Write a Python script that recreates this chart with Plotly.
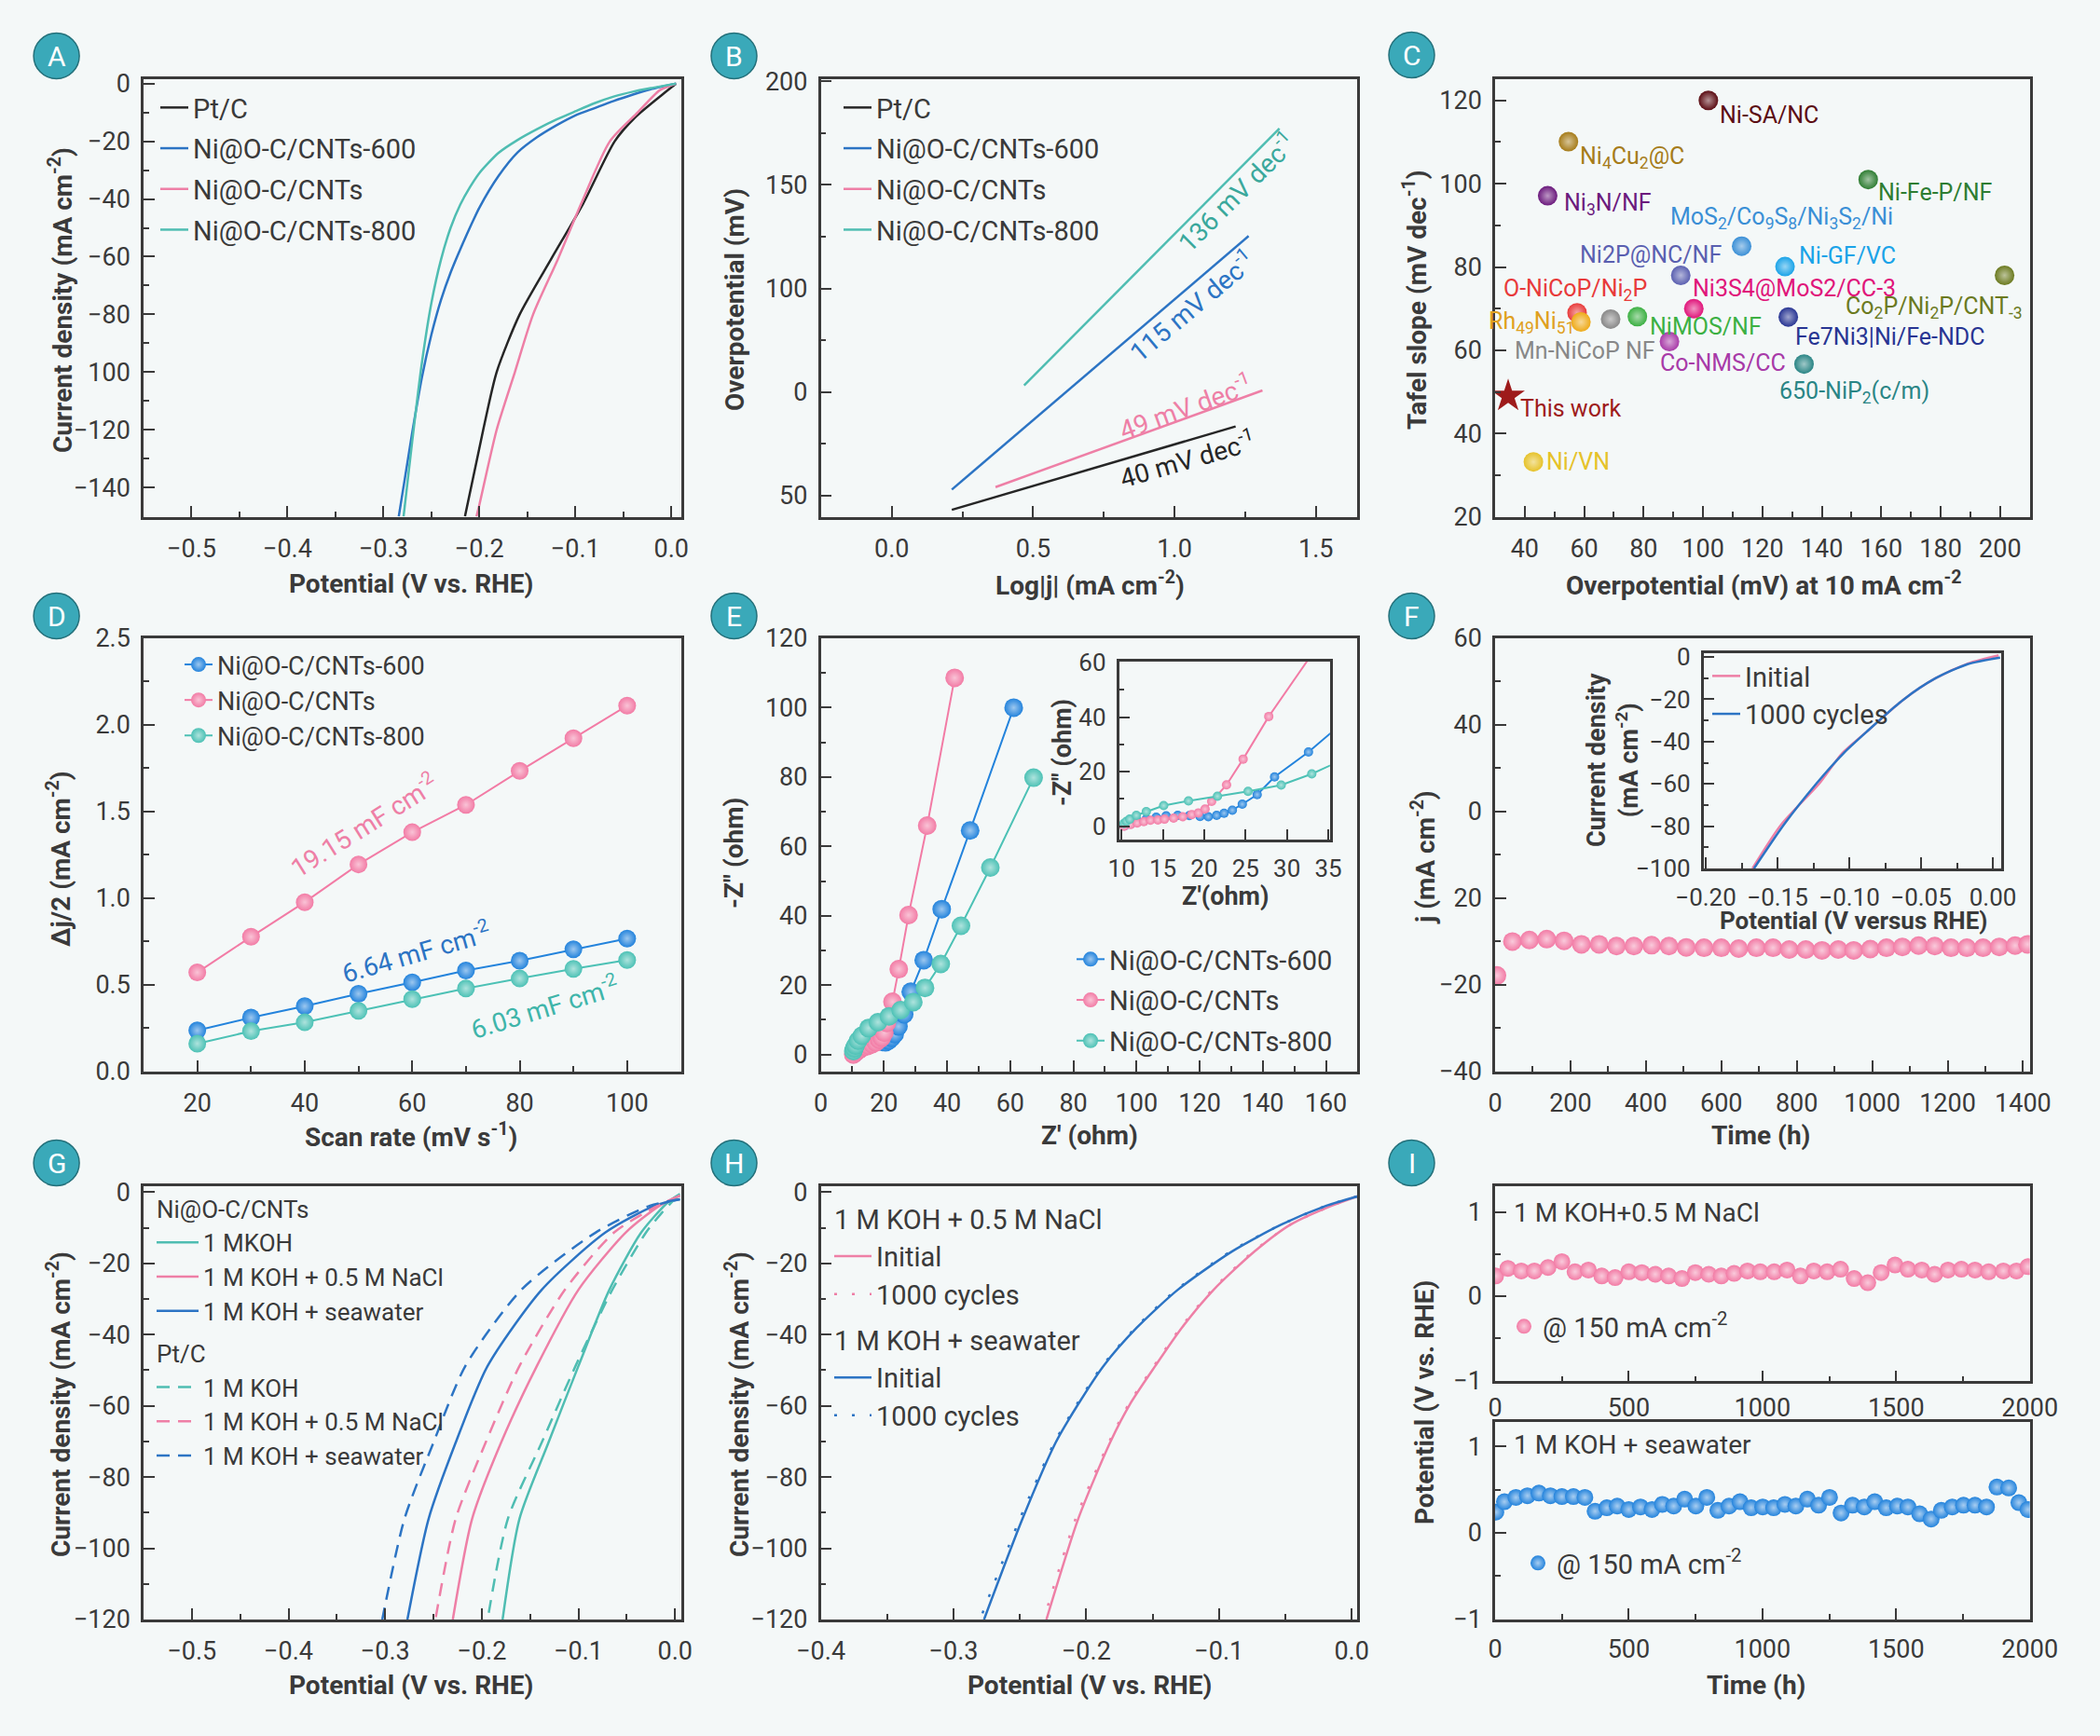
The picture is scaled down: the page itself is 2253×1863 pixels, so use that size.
import plotly.graph_objects as go

W, H = 2253, 1863
BG = "#f4f8f8"
INK = "#3a3a3a"
FONT = "Roboto"
MINUS = "\u2212"

C_BLK = "#262626"
C_BLU = "#2c74c4"
C_PNK = "#ee7fa6"
C_TEA = "#4fbdb2"
MK_BLU = "#2383dc"
MK_PNK = "#f27ba5"
MK_TEA = "#4cc1b5"

# ---------------- Panel A : LSV ----------------
A_pt_x = [0.005, -0.009, -0.038, -0.059, -0.092, -0.125, -0.158, -0.182, -0.196, -0.215]
A_pt_y = [0, -3.7, -11.8, -20, -41.7, -60.7, -80, -100, -120, -150]
A_600_x = [0.005, -0.02, -0.04, -0.06, -0.08, -0.10, -0.12, -0.14, -0.16, -0.18, -0.20, -0.21, -0.22,
           -0.23, -0.24, -0.25, -0.26, -0.27, -0.284]
A_600_y = [0, -1.8, -3.8, -6.0, -8.5, -11.0, -14.5, -18.6, -23.8, -32, -43, -50, -57.5, -65.5, -75, -87,
           -102, -121, -150]
A_cnt_x = [0.005, -0.012, -0.035, -0.064, -0.094, -0.118, -0.144, -0.163, -0.182, -0.2, -0.203]
A_cnt_y = [0, -2.3, -10, -20, -41.7, -60.7, -80, -100, -120, -146, -150]
A_800_x = [0.005, -0.02, -0.04, -0.06, -0.08, -0.10, -0.12, -0.14, -0.16, -0.18, -0.20, -0.21, -0.22,
           -0.23, -0.24, -0.25, -0.26, -0.27, -0.279]
A_800_y = [0, -1.5, -2.8, -4.5, -6.8, -9.6, -12.5, -15.8, -19.5, -24, -31, -36, -42, -50, -61, -76, -97,
           -124, -150]
A_xticks = [-0.5, -0.4, -0.3, -0.2, -0.1, 0.0]
A_xtext = ["-0.5", "-0.4", "-0.3", "-0.2", "-0.1", "0.0"]
A_yticks = [0, -20, -40, -60, -80, -100, -120, -140]
A_ytext = ["0", "-20", "-40", "-60", "-80", "100", "-120", "-140"]

# ---------------- Panel B : Tafel ----------------
B_pt_x, B_pt_y = [0.2125, 1.216], [-7.0, 33.3]
B_600_x, B_600_y = [0.2125, 1.262], [2.8, 125.3]
B_cnt_x, B_cnt_y = [0.367, 1.311], [4.0, 50.7]
B_800_x, B_800_y = [0.468, 1.371], [53.1, 177.3]
B_xticks = [0.0, 0.5, 1.0, 1.5]
B_xtext = ["0.0", "0.5", "1.0", "1.5"]
B_yticks = [200, 150, 100, 50, 0]
B_ytext = ["200", "150", "100", "0", "50"]
B_slopes = ["136 mV dec<sup>-1</sup>", "115 mV dec<sup>-1</sup>", "49 mV dec<sup>-1</sup>", "40 mV dec<sup>-1</sup>"]

# ---------------- Panel C : comparison ----------------
C_names = ["Ni-SA/NC", "Ni<sub>4</sub>Cu<sub>2</sub>@C", "Ni<sub>3</sub>N/NF", "Ni-Fe-P/NF",
           "MoS<sub>2</sub>/Co<sub>9</sub>S<sub>8</sub>/Ni<sub>3</sub>S<sub>2</sub>/Ni", "Ni-GF/VC",
           "Ni2P@NC/NF", "Co<sub>2</sub>P/Ni<sub>2</sub>P/CNT<sub>-3</sub>", "Ni3S4@MoS2/CC-3",
           "O-NiCoP/Ni<sub>2</sub>P", "Rh<sub>49</sub>Ni<sub>51</sub>", "Mn-NiCoP NF", "NiMOS/NF",
           "Co-NMS/CC", "Fe7Ni3|Ni/Fe-NDC", "650-NiP<sub>2</sub>(c/m)", "Ni/VN"]
C_eta = [101.8, 54.7, 47.7, 155.6, 113.0, 127.6, 92.5, 201.5, 96.9, 57.6, 58.9, 68.9, 77.9, 88.7, 128.7, 134.0, 42.9]
C_tafel = [120.0, 110.1, 97.1, 101.0, 85.0, 80.1, 78.0, 78.0, 70.0, 69.0, 66.8, 67.5, 68.1, 62.1, 68.0, 56.7, 33.2]
C_colors = ["#5c0d14", "#a67c1a", "#6b1a7d", "#2e7d32", "#3a8fd6", "#1aa3e8", "#5a5fb0", "#6b7a1f",
            "#e0157a", "#e83a3a", "#eeaa18", "#888888", "#3cb043", "#a83aa8", "#283593", "#2a8585", "#e6c229"]
C_txtcol = ["#5c0d14", "#a67c1a", "#6b1a7d", "#2e7d32", "#3a8fd6", "#1aa3e8", "#5a5fb0", "#6b7a1f",
            "#e0157a", "#e83a3a", "#e0a020", "#888888", "#3cb043", "#a83aa8", "#283593", "#2a8585", "#e6c229"]
# label placement: (xanchor, xshift px, yshift px)
C_lab = [("left", 10, -16), ("left", 10, -17), ("left", 16, -9), ("left", 9, -14),
         ("center", 43, 30), ("left", 13, 12), ("right", 46, 22), ("right", 21, -35),
         ("left", -3, 22), ("center", -2, 25), ("right", -5, 0), ("center", -27, -34),
         ("left", 11, -11), ("left", -12, -23), ("left", 5, -21), ("center", 54, -30), ("left", 12, 0)]
C_this_eta, C_this_tafel = [34.4], [49.0]
C_xticks = [40, 60, 80, 100, 120, 140, 160, 180, 200]
C_yticks = [20, 40, 60, 80, 100, 120]

# ---------------- Panel D : Cdl ----------------
D_rate = [20, 30, 40, 50, 60, 70, 80, 90, 100]
D_600 = [0.235, 0.309, 0.375, 0.447, 0.513, 0.581, 0.638, 0.704, 0.766]
D_cnt = [0.570, 0.776, 0.976, 1.194, 1.380, 1.538, 1.734, 1.923, 2.111]
D_800 = [0.159, 0.231, 0.282, 0.348, 0.416, 0.478, 0.535, 0.591, 0.642]
D_xticks = [20, 40, 60, 80, 100]
D_yticks = [0.0, 0.5, 1.0, 1.5, 2.0, 2.5]
D_ytext = ["0.0", "0.5", "1.0", "1.5", "2.0", "2.5"]

# ---------------- Panel E : EIS ----------------
E_600_x = [10.4, 11.2, 12.0, 13.0, 14.2, 15.4, 16.8, 18.2, 19.5, 20.5, 21.5, 22.4, 23.4, 24.6, 26.4, 28.5, 32.6, 38.3, 47.3, 61.1]
E_600_y = [0.2, 1.0, 1.8, 2.6, 3.3, 3.8, 4.0, 3.9, 3.6, 3.5, 4.0, 4.8, 5.9, 8.1, 11.6, 18.1, 27.2, 41.9, 64.6, 100.0]
E_cnt_x = [10.3, 11.1, 11.9, 12.7, 13.5, 14.4, 15.2, 16.3, 17.4, 18.5, 19.3, 20.1, 20.9, 22.7, 24.7, 27.8, 33.7, 42.4]
E_cnt_y = [0.0, 0.65, 1.2, 1.7, 2.2, 2.3, 2.6, 3.0, 3.5, 4.3, 4.9, 6.3, 9.1, 15.2, 24.6, 40.2, 66.0, 108.6]
E_800_x = [10.3, 10.6, 11.0, 11.8, 13.0, 15.1, 18.1, 21.6, 25.3, 29.3, 33.0, 38.0, 44.4, 53.7, 67.4]
E_800_y = [1.0, 1.8, 2.6, 4.0, 5.4, 7.6, 9.3, 11.0, 12.8, 15.1, 19.2, 26.1, 37.1, 53.9, 79.8]
E_xticks = [0, 20, 40, 60, 80, 100, 120, 140, 160]
E_yticks = [0, 20, 40, 60, 80, 100, 120]
E_in_xticks = [10, 15, 20, 25, 30, 35]
E_in_yticks = [0, 20, 40, 60]

# ---------------- Panel F : stability ----------------
F_t = [5, 46, 91, 137, 183, 229, 276, 322, 368, 415, 461, 507, 554, 600, 646, 693, 737, 780, 824, 867,
       910, 951, 995, 1038, 1080, 1123, 1166, 1209, 1251, 1294, 1337, 1379, 1412]
F_j = [-17.9, -10.05, -9.7, -9.5, -9.9, -10.7, -10.7, -11.1, -11.1, -10.9, -11.1, -11.4, -11.5, -11.5, -11.7,
       -11.5, -11.5, -11.9, -11.9, -12.1, -11.9, -12.1, -11.8, -11.5, -11.3, -11.0, -11.1, -11.5, -11.5,
       -11.5, -11.3, -11.0, -10.7]
F_xticks = [0, 200, 400, 600, 800, 1000, 1200, 1400]
F_yticks = [60, 40, 20, 0, -20, -40]
F_ytext = ["60", "40", "0", "20", "-20", "-40"]
F_ini_x = [0.004, -0.017, -0.040, -0.0624, -0.088, -0.105, -0.121, -0.1475, -0.1675]
F_ini_y = [0.8, -3.0, -10.1, -20.2, -35.4, -45.5, -59.9, -79.3, -100]
F_cyc_x = [0.005, -0.0176, -0.040, -0.0624, -0.088, -0.104, -0.123, -0.1456, -0.1664]
F_cyc_y = [-0.3, -3.4, -10.1, -20.2, -35.4, -45.5, -59.9, -79.3, -100]
F_in_xticks = [-0.20, -0.15, -0.10, -0.05, 0.00]
F_in_xtext = ["-0.20", "-0.15", "-0.10", "-0.05", "0.00"]
F_in_yticks = [0, -20, -40, -60, -80, -100]
F_in_ytext = ["0", "-20", "-40", "-60", "-80", "-100"]

# ---------------- Panel G : electrolytes ----------------
G_ni_koh_x = [0.005, -0.007, -0.035, -0.068, -0.100, -0.131, -0.161, -0.1785]
G_ni_koh_y = [-0.5, -2.7, -11.3, -27.4, -48.8, -70.3, -91.7, -120]
G_ni_nacl_x = [0.005, -0.016, -0.051, -0.100, -0.143, -0.180, -0.210, -0.230]
G_ni_nacl_y = [-1.0, -3.8, -11.3, -27.4, -48.8, -70.3, -91.7, -120]
G_ni_sea_x = [0.005, -0.021, -0.072, -0.138, -0.194, -0.227, -0.255, -0.277]
G_ni_sea_y = [-2.0, -3.8, -11.3, -27.4, -48.8, -70.3, -91.7, -120]
G_pt_koh_x = [0.003, -0.014, -0.030, -0.065, -0.103, -0.138, -0.173, -0.194]
G_pt_koh_y = [-1.0, -5.9, -11.3, -27.4, -48.8, -70.3, -91.7, -120]
G_pt_nacl_x = [0.005, -0.018, -0.063, -0.114, -0.161, -0.196, -0.227, -0.248]
G_pt_nacl_y = [-1.0, -3.8, -11.3, -27.4, -48.8, -70.3, -91.7, -120]
G_pt_sea_x = [0.005, -0.026, -0.082, -0.159, -0.217, -0.250, -0.280, -0.303]
G_pt_sea_y = [-2.0, -3.8, -11.3, -27.4, -48.8, -70.3, -91.7, -120]
G_yticks = [0, -20, -40, -60, -80, -100, -120]
G_ytext = ["0", "-20", "-40", "-60", "-80", "-100", "-120"]

# ---------------- Panel H : cycling ----------------
H_y = [-1.2, -3.8, -9.1, -16.6, -27.4, -38.1, -48.8, -59.5, -70.3, -91.7, -120]
H_nacl_ini = [0.004, -0.015, -0.046, -0.073, -0.104, -0.128, -0.148, -0.167, -0.182, -0.206, -0.230]
H_nacl_cyc = [0.004, -0.015, -0.046, -0.074, -0.105, -0.129, -0.149, -0.168, -0.183, -0.208, -0.232]
H_sea_ini = [0.004, -0.019, -0.053, -0.090, -0.131, -0.162, -0.187, -0.206, -0.223, -0.248, -0.277]
H_sea_cyc = [0.004, -0.019, -0.053, -0.091, -0.132, -0.163, -0.188, -0.207, -0.224, -0.250, -0.280]
H_xticks = [-0.4, -0.3, -0.2, -0.1, 0.0]
H_xtext = ["-0.4", "-0.3", "-0.2", "-0.1", "0.0"]

# ---------------- Panel I : chronopotentiometry ----------------
I_nacl_t = [2, 48, 98, 147, 198, 250, 299, 349, 399, 449, 500, 549, 599, 649, 699, 749, 799, 846, 894, 944,
            992, 1044, 1092, 1142, 1192, 1242, 1292, 1343, 1394, 1444, 1496, 1544, 1596, 1644, 1694, 1744,
            1795, 1846, 1901, 1950, 1993]
I_nacl_v = [0.24, 0.33, 0.30, 0.30, 0.34, 0.41, 0.29, 0.31, 0.24, 0.22, 0.29, 0.28, 0.26, 0.24, 0.21, 0.28,
            0.26, 0.24, 0.27, 0.30, 0.29, 0.29, 0.31, 0.24, 0.30, 0.29, 0.32, 0.21, 0.16, 0.28, 0.37, 0.32,
            0.31, 0.26, 0.31, 0.32, 0.31, 0.29, 0.30, 0.30, 0.35]
I_sea_t = [3, 35, 78, 121, 164, 207, 250, 293, 336, 374, 418, 457, 500, 544, 587, 626, 668, 709, 751, 792,
           833, 875, 916, 958, 1001, 1042, 1084, 1125, 1168, 1210, 1251, 1294, 1337, 1381, 1420, 1463, 1505,
           1544, 1588, 1631, 1669, 1710, 1752, 1795, 1838, 1877, 1921, 1959, 1993]
I_sea_v = [0.24, 0.36, 0.41, 0.43, 0.46, 0.43, 0.42, 0.42, 0.41, 0.25, 0.29, 0.31, 0.27, 0.30, 0.27, 0.33,
           0.31, 0.39, 0.31, 0.41, 0.26, 0.31, 0.36, 0.29, 0.30, 0.29, 0.33, 0.31, 0.39, 0.32, 0.41, 0.23,
           0.32, 0.30, 0.36, 0.29, 0.31, 0.30, 0.22, 0.16, 0.26, 0.30, 0.32, 0.32, 0.30, 0.53, 0.52, 0.35, 0.27]
I_xticks = [0, 500, 1000, 1500, 2000]
I_yticks = [1, 0, -1]
I_ytext = ["1", "0", "-1"]


# ======================================================================
def PX(x):
    return x / W


def PY(y):
    return 1 - y / H


def tint(hexcol, f=0.6):
    h = hexcol.lstrip("#")
    r, g, b = int(h[0:2], 16), int(h[2:4], 16), int(h[4:6], 16)
    r, g, b = [int(c + (255 - c) * f) for c in (r, g, b)]
    return "#%02x%02x%02x" % (r, g, b)


def axis(rng, dom, anchor, tickvals, ticktext=None, minor=None, fs=27, standoff=6):
    labels = ticktext if ticktext else [str(v) for v in tickvals]
    labels = [t.replace("-", MINUS) for t in labels]
    d = dict(range=rng, domain=dom, anchor=anchor, showline=True, mirror=True,
             linecolor=INK, linewidth=2.5, ticks="inside", ticklen=12, tickwidth=2,
             tickcolor=INK, showgrid=False, zeroline=False, tickmode="array", automargin=False,
             tickvals=tickvals, ticktext=labels,
             tickfont=dict(family=FONT, size=fs, color=INK), ticklabelstandoff=standoff)
    if minor is not None:
        d["minor"] = dict(ticks="inside", ticklen=6, tickwidth=2, tickcolor=INK,
                          tickmode="linear", tick0=0, dtick=minor, showgrid=False)
    return d


# domains (pixels -> paper)
colA = [PX(154), PX(730.5)]
colB = [PX(880.6), PX(1456.4)]
colC = [PX(1604), PX(2177.7)]
row1 = [PY(554.7), PY(85.4)]
row2 = [PY(1149.5), PY(685)]
row3 = [PY(1738), PY(1272.5)]

fig = go.Figure()


def line(x, y, color, name, xa, ya, legend=None, dash="solid", width=2.5, show=True, group=None, gtitle=None,
         gsize=26):
    tr = go.Scatter(x=x, y=y, mode="lines", name=name, line=dict(color=color, width=width, dash=dash,
                    shape="spline", smoothing=0.7), xaxis=xa, yaxis=ya, showlegend=show,
                    legend=legend if legend else "legend")
    if group:
        tr.legendgroup = group
    if gtitle:
        tr.legendgrouptitle = dict(text=gtitle, font=dict(family=FONT, size=gsize, color=INK))
    fig.add_trace(tr)


# ---- A
line(A_pt_x, A_pt_y, C_BLK, "Pt/C", "x", "y", "legend", group="a1")
line(A_600_x, A_600_y, C_BLU, "Ni@O-C/CNTs-600", "x", "y", "legend", group="a2")
line(A_cnt_x, A_cnt_y, C_PNK, "Ni@O-C/CNTs", "x", "y", "legend", group="a3")
line(A_800_x, A_800_y, C_TEA, "Ni@O-C/CNTs-800", "x", "y", "legend", group="a4")

# ---- B
for xs, ys, c, n, g in [(B_pt_x, B_pt_y, C_BLK, "Pt/C", "b1"), (B_600_x, B_600_y, C_BLU, "Ni@O-C/CNTs-600", "b2"),
                        (B_cnt_x, B_cnt_y, C_PNK, "Ni@O-C/CNTs", "b3"), (B_800_x, B_800_y, C_TEA, "Ni@O-C/CNTs-800", "b4")]:
    fig.add_trace(go.Scatter(x=xs, y=ys, mode="lines", name=n, line=dict(color=c, width=2.5),
                             xaxis="x2", yaxis="y2", legend="legend2", legendgroup=g))

# ---- C
fig.add_trace(go.Scatter(x=C_eta, y=C_tafel, mode="markers", showlegend=False, xaxis="x3", yaxis="y3",
                         marker=dict(size=21, color=C_colors, line=dict(width=0),
                                     gradient=dict(type="radial", color=[tint(c, 0.55) for c in C_colors]))))
fig.add_trace(go.Scatter(x=C_this_eta, y=C_this_tafel, mode="markers", showlegend=False, xaxis="x3", yaxis="y3",
                         marker=dict(size=27, symbol="star", color="#9e1b1b", line=dict(width=0))))

# ---- D
for ys, c, n, g in [(D_600, MK_BLU, "Ni@O-C/CNTs-600", "d1"), (D_cnt, MK_PNK, "Ni@O-C/CNTs", "d2"),
                    (D_800, MK_TEA, "Ni@O-C/CNTs-800", "d3")]:
    fig.add_trace(go.Scatter(x=D_rate, y=ys, mode="lines+markers", name=n, xaxis="x4", yaxis="y4",
                             legend="legend3", legendgroup=g, line=dict(color=c, width=2),
                             marker=dict(size=19, color=c, gradient=dict(type="radial", color=tint(c, 0.55)))))

# ---- E main + inset
for xs, ys, c, n, g in [(E_600_x, E_600_y, MK_BLU, "Ni@O-C/CNTs-600", "e1"),
                        (E_cnt_x, E_cnt_y, MK_PNK, "Ni@O-C/CNTs", "e2"),
                        (E_800_x, E_800_y, MK_TEA, "Ni@O-C/CNTs-800", "e3")]:
    fig.add_trace(go.Scatter(x=xs, y=ys, mode="lines+markers", name=n, xaxis="x5", yaxis="y5",
                             legend="legend4", legendgroup=g, line=dict(color=c, width=2),
                             marker=dict(size=20, color=c, gradient=dict(type="radial", color=tint(c, 0.55)))))
for xs, ys, c in [(E_600_x, E_600_y, MK_BLU), (E_cnt_x, E_cnt_y, MK_PNK), (E_800_x, E_800_y, MK_TEA)]:
    fig.add_trace(go.Scatter(x=xs, y=ys, mode="lines+markers", showlegend=False, xaxis="x6", yaxis="y6",
                             line=dict(color=c, width=2),
                             marker=dict(size=10, color=c, gradient=dict(type="radial", color=tint(c, 0.55)))))

# ---- F main + inset
fig.add_trace(go.Scatter(x=F_t, y=F_j, mode="markers", showlegend=False, xaxis="x7", yaxis="y7",
                         marker=dict(size=20, color=MK_PNK, gradient=dict(type="radial", color=tint(MK_PNK, 0.6)))))
line(F_ini_x, F_ini_y, C_PNK, "Initial", "x8", "y8", "legend5")
line(F_cyc_x, F_cyc_y, C_BLU, "1000 cycles", "x8", "y8", "legend5")

# ---- G
line(G_ni_koh_x, G_ni_koh_y, C_TEA, "1 MKOH", "x9", "y9", "legend6", group="gni", gtitle="Ni@O-C/CNTs")
line(G_ni_nacl_x, G_ni_nacl_y, C_PNK, "1 M KOH + 0.5 M NaCl", "x9", "y9", "legend6", group="gni")
line(G_ni_sea_x, G_ni_sea_y, C_BLU, "1 M KOH + seawater", "x9", "y9", "legend6", group="gni")
line(G_pt_koh_x, G_pt_koh_y, C_TEA, "1 M KOH", "x9", "y9", "legend6", dash="14px,9px", group="gpt", gtitle="Pt/C")
line(G_pt_nacl_x, G_pt_nacl_y, C_PNK, "1 M KOH + 0.5 M NaCl", "x9", "y9", "legend6", dash="14px,9px", group="gpt")
line(G_pt_sea_x, G_pt_sea_y, C_BLU, "1 M KOH + seawater", "x9", "y9", "legend6", dash="14px,9px", group="gpt")

# ---- H
for xs, c, n, dsh, g, gt in [(H_nacl_ini, C_PNK, "Initial", "solid", "hn", "1 M KOH + 0.5 M NaCl"),
                             (H_nacl_cyc, C_PNK, "1000 cycles", "3px,16px", "hn", None),
                             (H_sea_ini, C_BLU, "Initial", "solid", "hs", "1 M KOH + seawater"),
                             (H_sea_cyc, C_BLU, "1000 cycles", "3px,16px", "hs", None)]:
    tr = go.Scatter(x=xs, y=H_y, mode="lines", name=n, line=dict(color=c, width=2.5, dash=dsh, shape="spline",
                    smoothing=0.7), xaxis="x10", yaxis="y10", legend="legend7", legendgroup=g)
    if gt:
        tr.legendgrouptitle = dict(text=gt, font=dict(family=FONT, size=29, color=INK))
    fig.add_trace(tr)

# ---- I
fig.add_trace(go.Scatter(x=I_nacl_t, y=I_nacl_v, mode="markers", name="@ 150 mA cm<sup>-2</sup>",
                         xaxis="x11", yaxis="y11", legend="legend8",
                         marker=dict(size=18, color=MK_PNK, gradient=dict(type="radial", color=tint(MK_PNK, 0.6)))))
fig.add_trace(go.Scatter(x=I_sea_t, y=I_sea_v, mode="markers", name="@ 150 mA cm<sup>-2</sup>",
                         xaxis="x12", yaxis="y12", legend="legend9",
                         marker=dict(size=18, color=MK_BLU, gradient=dict(type="radial", color=tint(MK_BLU, 0.6)))))

# ======================================================================
layout = dict(width=W, height=H, margin=dict(l=0, r=0, t=0, b=0, pad=0, autoexpand=False),
              paper_bgcolor=BG, plot_bgcolor=BG, font=dict(family=FONT, color=INK), showlegend=True)

layout["xaxis"] = axis([-0.55, 0.01], colA, "y", A_xticks, A_xtext, 0.05, standoff=8)
layout["yaxis"] = axis([-150.2, 1.4], row1, "x", A_yticks, A_ytext, 10)
layout["xaxis2"] = axis([-0.2508, 1.647], colB, "y2", B_xticks, B_xtext, 0.25, standoff=8)
layout["yaxis2"] = axis([-10.4, 200.9], row1, "x2", B_yticks, B_ytext, 25)
layout["xaxis3"] = axis([30, 210], colC, "y3", C_xticks, None, 10, standoff=8)
layout["yaxis3"] = axis([20, 125], row1, "x3", C_yticks, None, 10)
layout["xaxis4"] = axis([10, 110], colA, "y4", D_xticks, None, 10, standoff=8)
layout["yaxis4"] = axis([0, 2.5], row2, "x4", D_yticks, D_ytext, 0.25)
layout["xaxis5"] = axis([0, 170], colB, "y5", E_xticks, None, 10, standoff=8)
layout["yaxis5"] = axis([-4.8, 120], row2, "x5", E_yticks, None, 10)
layout["xaxis6"] = axis([9.7, 35.2], [PX(1200.5), PX(1426.9)], "y6", E_in_xticks, None, None, fs=26, standoff=6)
layout["yaxis6"] = axis([-5, 60.3], [PY(901.4), PY(710)], "x6", E_in_yticks, None, 10, fs=26)
layout["xaxis7"] = axis([0, 1418], colC, "y7", F_xticks, None, 100, standoff=8)
layout["yaxis7"] = axis([-40, 60], row2, "x7", F_yticks, F_ytext, 10)
layout["xaxis8"] = axis([-0.2016, 0.0058], [PX(1827.6), PX(2147)], "y8", F_in_xticks, F_in_xtext, 0.025,
                        fs=26, standoff=6)
layout["yaxis8"] = axis([-100, 2], [PY(932), PY(700.5)], "x8", F_in_yticks, F_in_ytext, 10, fs=26)
layout["xaxis9"] = axis([-0.55, 0.006], colA, "y9", A_xticks, A_xtext, 0.05, standoff=8)
layout["yaxis9"] = axis([-120, 1.8], row3, "x9", G_yticks, G_ytext, 10)
layout["xaxis10"] = axis([-0.4, 0.0044], colB, "y10", H_xticks, H_xtext, 0.05, standoff=8)
layout["yaxis10"] = axis([-120, 1.8], row3, "x10", G_yticks, G_ytext, 10)
layout["xaxis11"] = axis([0, 2000], colC, "y11", I_xticks, None, 250, standoff=2)
layout["yaxis11"] = axis([-1.01, 1.31], [PY(1482.4), PY(1272.5)], "x11", I_yticks, I_ytext, 0.5)
layout["xaxis12"] = axis([0, 2000], colC, "y12", I_xticks, None, 250, standoff=6)
layout["yaxis12"] = axis([-1.005, 1.29], [PY(1738), PY(1525.5)], "x12", I_yticks, I_ytext, 0.5)


def leg(x, y, fs=29, gap=0, iw=30):
    return dict(x=PX(x), y=PY(y), xanchor="left", yanchor="top", bgcolor="rgba(0,0,0,0)",
                borderwidth=0, font=dict(family=FONT, size=fs, color=INK), tracegroupgap=gap,
                traceorder="grouped", itemwidth=iw)


layout["legend"] = leg(167, 90, 29, 3)
layout["legend2"] = leg(900, 90, 29, 3)
layout["legend3"] = leg(193, 689, 27, 0)
layout["legend4"] = leg(1150, 1004, 29, 3)
layout["legend5"] = leg(1832, 700, 29, 0)
layout["legend6"] = leg(163, 1273, 26, 8, 45)
layout["legend7"] = leg(890, 1282, 29, 8, 40)
layout["legend8"] = leg(1615, 1398, 29, 0)
layout["legend9"] = leg(1630, 1652, 29, 0)

fig.update_layout(**layout)

# ---------------- annotations ----------------
ann = []


def title(text, x, y, angle=0, size=28, bold=True):
    t = "<b>%s</b>" % text if bold else text
    ann.append(dict(text=t, x=PX(x), y=PY(y), xref="paper", yref="paper", showarrow=False, textangle=angle,
                    font=dict(family=FONT, size=size, color=INK), xanchor="center", yanchor="middle"))


title("Potential (V vs. RHE)", 441, 627)
title("Current density (mA cm<sup>-2</sup>)", 65, 322, -90)
title("Log|j| (mA cm<sup>-2</sup>)", 1169, 627)
title("Overpotential (mV)", 788, 322, -90)
title("Overpotential (mV) at 10 mA cm<sup>-2</sup>", 1892, 627)
title("Tafel slope (mV dec<sup>-1</sup>)", 1518, 322, -90)
title("Scan rate (mV s<sup>-1</sup>)", 441, 1218)
title("Δj/2 (mA cm<sup>-2</sup>)", 63, 922, -90)
title("Z' (ohm)", 1169, 1218)
title("-Z\" (ohm)", 788, 916, -90)
title("Z'(ohm)", 1314, 962, 0, 27)
title("-Z\" (ohm)", 1140, 808, -90, 27)
title("Time (h)", 1889, 1218)
title("j (mA cm<sup>-2</sup>)", 1527, 920, -90)
title("Current density<br>(mA cm<sup>-2</sup>)", 1731, 816, -90, 27)
title("Potential (V versus RHE)", 1988, 988, 0, 26)
title("Potential (V vs. RHE)", 441, 1808)
title("Current density (mA cm<sup>-2</sup>)", 63, 1507, -90)
title("Potential (V vs. RHE)", 1169, 1808)
title("Current density (mA cm<sup>-2</sup>)", 791, 1507, -90)
title("Time (h)", 1884, 1808)
title("Potential (V vs. RHE)", 1528, 1505, -90)

# slope annotations (B, D)
for txt, x, y, ang, col in [(B_slopes[0], 1326, 206, -45, "#3aa89c"), (B_slopes[1], 1278, 328, -40, C_BLU),
                            (B_slopes[2], 1271, 436, -20, C_PNK), (B_slopes[3], 1273, 492, -16, C_BLK),
                            ("19.15 mF cm<sup>-2</sup>", 390, 885, -32, C_PNK),
                            ("6.64 mF cm<sup>-2</sup>", 446, 1021, -16, C_BLU),
                            ("6.03 mF cm<sup>-2</sup>", 584, 1080, -17, "#3fb5aa")]:
    ann.append(dict(text=txt, x=PX(x), y=PY(y), xref="paper", yref="paper", showarrow=False, textangle=ang,
                    font=dict(family=FONT, size=28, color=col), xanchor="center", yanchor="middle"))

# C labels
for n, ex, ta, col, (xa, xs, ys) in zip(C_names, C_eta, C_tafel, C_txtcol, C_lab):
    ann.append(dict(text=n, x=ex, y=ta, xref="x3", yref="y3", showarrow=False, xanchor=xa, yanchor="middle",
                    xshift=xs, yshift=ys, font=dict(family=FONT, size=25, color=col)))
ann.append(dict(text="This work", x=C_this_eta[0], y=C_this_tafel[0], xref="x3", yref="y3", showarrow=False,
                xanchor="left", yanchor="middle", xshift=11, yshift=-13, font=dict(family=FONT, size=25, color="#9e1b1b")))

# I condition labels
for txt, y in [("1 M KOH+0.5 M NaCl", 1301), ("1 M KOH + seawater", 1550)]:
    ann.append(dict(text=txt, x=PX(1622), y=PY(y), xref="paper", yref="paper", showarrow=False,
                    xanchor="left", yanchor="middle", font=dict(family=FONT, size=28, color=INK)))

# panel letters
shapes = []
for letter, cx, cy in [("A", 60.6, 60), ("B", 787.5, 60), ("C", 1514.5, 59), ("D", 60.6, 661),
                       ("E", 787.5, 661), ("F", 1514.5, 661), ("G", 60.6, 1248), ("H", 787.5, 1248),
                       ("I", 1514.5, 1248)]:
    r = 24.5
    shapes.append(dict(type="circle", xref="paper", yref="paper", x0=PX(cx - r), x1=PX(cx + r),
                       y0=PY(cy + r), y1=PY(cy - r), fillcolor="#3aa9b9", line=dict(color="#24707a", width=1.5)))
    ann.append(dict(text=letter, x=PX(cx), y=PY(cy), xref="paper", yref="paper", showarrow=False,
                    xanchor="center", yanchor="middle", font=dict(family=FONT, size=30, color="white")))

fig.update_layout(annotations=ann, shapes=shapes)
fig.write_html("out.html", config={"displayModeBar": False},
               post_script="document.body.style.margin='0';document.body.style.overflow='hidden';")
